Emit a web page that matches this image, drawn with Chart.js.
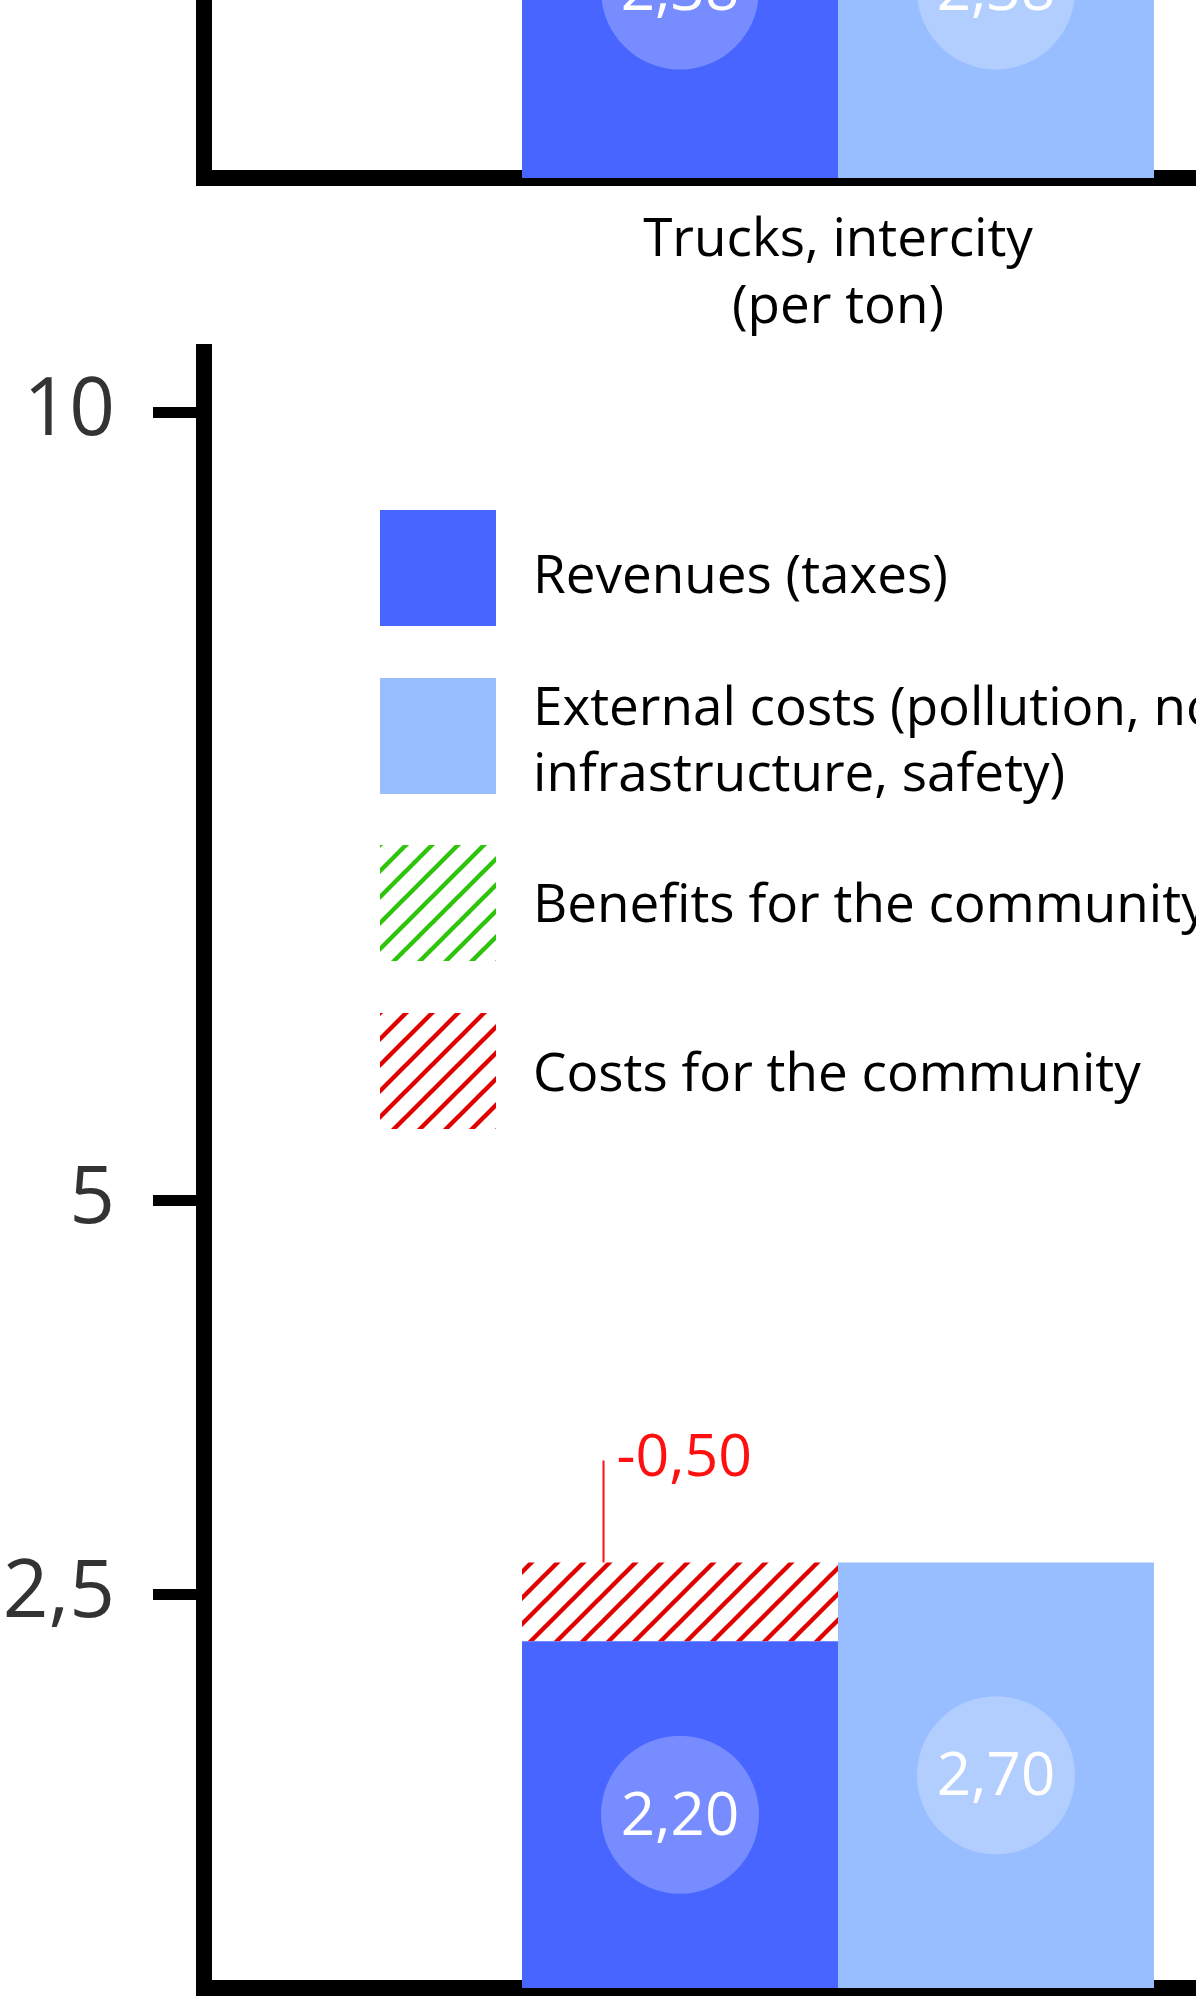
<!DOCTYPE html>
<html>
<head>
<meta charset="utf-8">
<script src="https://cdn.jsdelivr.net/npm/chart.js@4.4.1/dist/chart.umd.min.js"></script>
<style>
  html, body { margin: 0; padding: 0; background: #fff; }
  body { width: 1196px; height: 1996px; overflow: hidden; position: relative; font-family: 'Open Sans', sans-serif; }
  canvas.chart { position: absolute; left: 0; }
  #topChart { top: -1510px; }
  #bottomChart { top: 300px; }
  .lg { position: absolute; left: 380px; width: 1100px; height: 116px; z-index: 5; }
  .lg .box { position: absolute; left: 0; top: 0; width: 116px; height: 116px; }
  .lg .txt { position: absolute; left: 153px; top: 50%; transform: translateY(-50%); font-size: 53px; line-height: 66px; color: #000; white-space: nowrap; }
</style>
</head>
<body>
<canvas id="topChart" class="chart" width="1500" height="1900"></canvas>
<canvas id="bottomChart" class="chart" width="1500" height="1900"></canvas>

<div class="lg" style="top:510px"><div class="box" style="background:#4866FF"></div><div class="txt" style="margin-top:5px">Revenues (taxes)</div></div>
<div class="lg" style="top:678px"><div class="box" style="background:#99BEFF"></div><div class="txt" style="margin-top:2px">External costs (pollution, noise,<br>infrastructure, safety)</div></div>
<div class="lg" style="top:845px"><canvas class="box" id="lgBen" width="116" height="116"></canvas><div class="txt" style="margin-top:-1px">Benefits for the community</div></div>
<div class="lg" style="top:1013px"><canvas class="box" id="lgCost" width="116" height="116"></canvas><div class="txt" style="margin-top:0px">Costs for the community</div></div>

<script>
// ---- data ----
const topCategories = [["Trucks, intercity", "(per ton)"]];
const topRevenues = [2.38];
const topExternal = [2.38];
const topCosts = [null];
const topBenefits = [null];

const bottomCategories = [""];
const bottomRevenues = [2.20];
const bottomExternal = [2.70];
const bottomCosts = [0.50];
const bottomBenefits = [null];

const yTickValues = [2.5, 5, 10];
const Y_MAX = 10.381;

const COLOR_REV = '#4866FF';
const COLOR_EXT = '#99BEFF';
const COLOR_COST = '#E00000';
const COLOR_BEN = '#2EC40A';

Chart.defaults.font.family = "'Open Sans', sans-serif";

function hatch(color) {
  const s = 26;
  const c = document.createElement('canvas');
  c.width = s; c.height = s;
  const g = c.getContext('2d');
  g.strokeStyle = color;
  g.lineWidth = 4.4;
  g.lineCap = 'butt';
  g.beginPath();
  g.moveTo(-s / 2, s / 2); g.lineTo(s / 2, -s / 2);
  g.moveTo(0, s); g.lineTo(s, 0);
  g.moveTo(s / 2, s * 1.5); g.lineTo(s * 1.5, s / 2);
  g.stroke();
  return c;
}
const costTile = hatch(COLOR_COST);
const benTile = hatch(COLOR_BEN);

function fillLegend(id, tile) {
  const c = document.getElementById(id);
  const g = c.getContext('2d');
  g.fillStyle = g.createPattern(tile, 'repeat');
  g.fillRect(0, 0, c.width, c.height);
}
fillLegend('lgCost', costTile);
fillLegend('lgBen', benTile);

const fmt2 = v => v.toFixed(2).replace('.', ',');
const fmtTick = v => String(v).replace('.', ',');

const valueLabels = {
  id: 'valueLabels',
  afterDatasetsDraw(chart) {
    const ctx = chart.ctx;
    chart.data.datasets.forEach((ds, i) => {
      const meta = chart.getDatasetMeta(i);
      meta.data.forEach((bar, j) => {
        const v = ds.data[j];
        if (v == null) return;
        ctx.save();
        if (ds.kind === 'solid') {
          const cx = bar.x, cy = (bar.y + bar.base) / 2;
          ctx.fillStyle = 'rgba(255,255,255,0.25)';
          ctx.beginPath(); ctx.arc(cx, cy, 79, 0, Math.PI * 2); ctx.fill();
          ctx.fillStyle = '#fff';
          ctx.font = "60px 'Open Sans'";
          ctx.textAlign = 'center';
          ctx.textBaseline = 'alphabetic';
          ctx.fillText(fmt2(v), cx, cy + 20);
        } else if (ds.kind === 'cost') {
          const left = bar.x - bar.width / 2;
          const lx = left + 81.5;
          ctx.strokeStyle = '#FF1010';
          ctx.lineWidth = 2;
          ctx.beginPath(); ctx.moveTo(lx, bar.y); ctx.lineTo(lx, bar.y - 102); ctx.stroke();
          ctx.fillStyle = '#FF1010';
          ctx.font = "59px 'Open Sans'";
          ctx.textAlign = 'left';
          ctx.textBaseline = 'alphabetic';
          ctx.fillText('-' + fmt2(v), lx + 13, bar.y - 86);
        }
        ctx.restore();
      });
    });
  }
};

function makeChart(id, cats, rev, costs, bens, ext, showX) {
  const ctx = document.getElementById(id).getContext('2d');
  return new Chart(ctx, {
    type: 'bar',
    data: {
      labels: cats,
      datasets: [
        { label: 'Revenues (taxes)', kind: 'solid', data: rev, stack: 'rev', backgroundColor: COLOR_REV },
        { label: 'Costs for the community', kind: 'cost', data: costs, stack: 'rev', backgroundColor: ctx.createPattern(costTile, 'repeat') },
        { label: 'Benefits for the community', kind: 'ben', data: bens, stack: 'rev', backgroundColor: ctx.createPattern(benTile, 'repeat') },
        { label: 'External costs (pollution, noise, infrastructure, safety)', kind: 'solid', data: ext, stack: 'ext', backgroundColor: COLOR_EXT }
      ]
    },
    options: {
      responsive: false,
      animation: false,
      devicePixelRatio: 1,
      layout: { padding: { top: 52, right: 28, left: 0, bottom: 0 } },
      datasets: { bar: { categoryPercentage: 0.4984, barPercentage: 1.0, borderWidth: 0, inflateAmount: 0 } },
      plugins: { legend: { display: false }, tooltip: { enabled: false }, title: { display: false } },
      scales: {
        x: {
          stacked: true,
          grid: { display: false, drawTicks: false },
          border: { display: true, color: '#000', width: 16 },
          ticks: { display: showX, color: '#000', font: { size: 53, lineHeight: 1.26 }, padding: 30, maxRotation: 0 },
          afterFit: s => { s.height = 212; s.paddingLeft = 0; s.paddingRight = 0; }
        },
        y: {
          stacked: true,
          min: 0,
          max: Y_MAX,
          grid: { display: true, drawOnChartArea: false, drawTicks: true, tickLength: 51, tickWidth: 11, tickColor: '#000' },
          border: { display: true, color: '#000', width: 16 },
          afterBuildTicks: s => { s.ticks = yTickValues.map(v => ({ value: v })); },
          ticks: { color: '#333', font: { size: 80 }, padding: 38, callback: v => fmtTick(v) },
          afterFit: s => { s.width = 204; s.paddingTop = 0; s.paddingBottom = 0; }
        }
      }
    },
    plugins: [valueLabels]
  });
}

makeChart('bottomChart', bottomCategories, bottomRevenues, bottomCosts, bottomBenefits, bottomExternal, false);
makeChart('topChart', topCategories, topRevenues, topCosts, topBenefits, topExternal, true);
</script>
</body>
</html>
